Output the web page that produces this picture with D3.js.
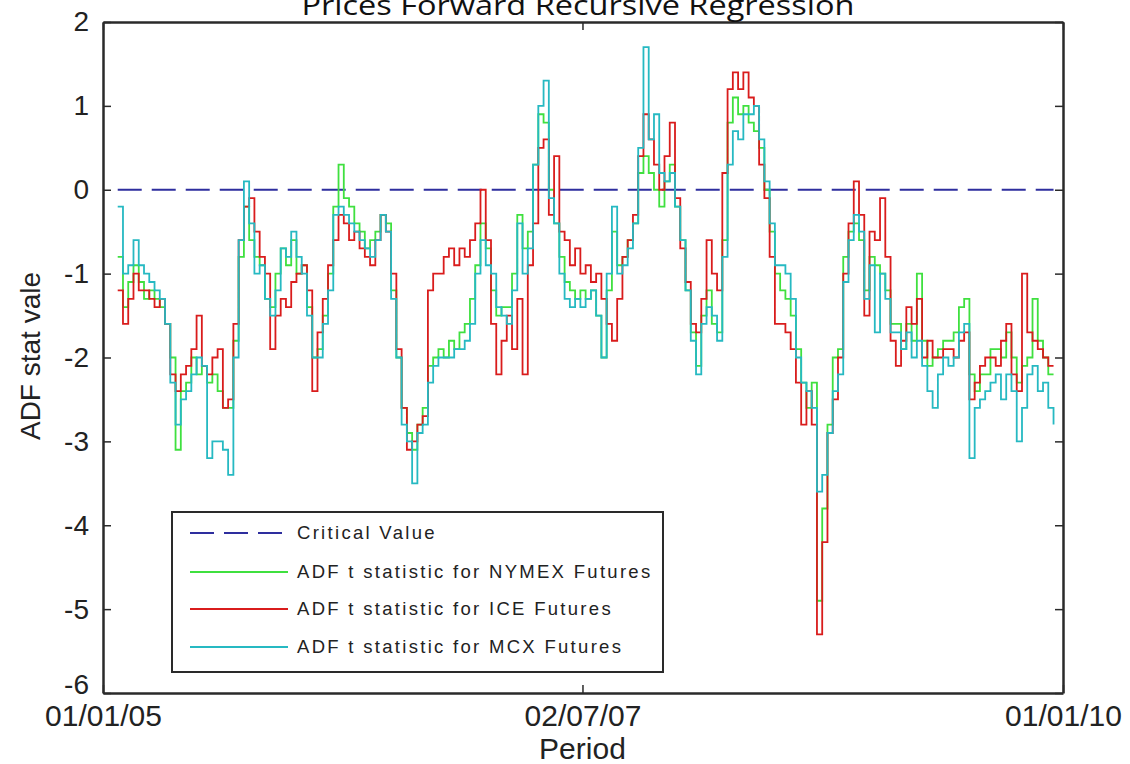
<!DOCTYPE html>
<html><head><meta charset="utf-8">
<script src="https://cdn.jsdelivr.net/npm/d3@7"></script>
<style>body{margin:0;background:#fff}svg{display:block}</style>
</head><body>
<svg id="chart" width="1130" height="764"></svg>
<script>
// ---------- data ----------
const chartTitle = "Prices Forward Recursive Regression";
const xLabel = "Period";
const yLabel = "ADF stat vale";
const xDomain = ["2005-01-01", "2010-01-01"];
const xTickDates = ["2005-01-01", "2007-07-02", "2010-01-01"];
const xTickLabels = ["01/01/05", "02/07/07", "01/01/10"];
const yTicks = [2, 1, 0, -1, -2, -3, -4, -5, -6];
const criticalValue = 0;
const legendLabels = ["Critical Value", "ADF t statistic for NYMEX Futures", "ADF t statistic for ICE Futures", "ADF t statistic for MCX Futures"];
const firstDate = "2005-01-29";
const stepDays = 10;
const nymex = [-0.8,-1.4,-1.1,-0.9,-1.1,-1.3,-1.2,-1.3,-1.4,-1.6,-2.0,-3.1,-2.4,-2.3,-2.0,-2.2,-2.1,-2.3,-2.2,-2.4,
 -2.6,-2.6,-1.8,-0.8,-0.2,-0.6,-0.8,-0.9,-1.3,-1.4,-1.0,-0.7,-0.9,-0.6,-1.0,-0.9,-1.4,-2.0,-1.9,-1.5,
 -1.0,-0.2,0.3,-0.1,-0.2,-0.4,-0.5,-0.7,-0.6,-0.5,-0.3,-0.4,-1.2,-2.0,-2.6,-2.9,-3.1,-2.8,-2.6,-2.1,
 -2.0,-1.9,-2.0,-1.8,-1.9,-1.7,-1.6,-1.3,-0.9,-0.4,-0.7,-1.2,-1.5,-1.4,-1.4,-1.0,-0.3,-0.7,-0.5,0.3,
 0.9,0.8,0.0,-0.4,-0.8,-1.1,-1.2,-1.3,-1.2,-1.3,-1.2,-1.5,-2.0,-1.2,-0.5,-0.9,-0.8,-0.6,-0.4,0.2,
 0.4,0.2,0.0,-0.2,0.1,0.3,-0.2,-0.6,-1.2,-1.7,-2.1,-1.5,-1.2,-1.6,-1.7,-0.6,0.8,1.1,0.9,1.0,
 0.8,0.7,0.5,0.0,-0.5,-1.0,-1.2,-1.3,-1.5,-1.9,-2.3,-2.6,-2.3,-4.9,-3.8,-2.8,-2.0,-1.9,-0.8,-0.5,
 -0.4,-0.6,-1.2,-0.8,-0.9,-1.0,-1.2,-1.6,-1.6,-1.9,-1.6,-1.8,-1.0,-1.8,-2.1,-2.0,-1.9,-1.8,-1.8,-1.7,
 -1.4,-1.3,-2.2,-2.4,-2.2,-2.2,-1.9,-1.9,-2.0,-1.7,-2.0,-2.3,-2.1,-2.0,-1.3,-1.8,-2.0,-2.2,-2.2];
const ice = [-1.2,-1.6,-1.3,-1.0,-1.2,-1.2,-1.3,-1.4,-1.3,-1.6,-2.2,-2.4,-2.2,-2.1,-1.9,-1.5,-2.1,-2.2,-2.0,-1.9,
 -2.6,-2.5,-1.6,-0.6,-0.2,-0.1,-0.5,-0.8,-1.0,-1.9,-1.5,-1.3,-1.4,-1.1,-1.0,-0.9,-1.2,-2.4,-1.7,-1.3,
 -0.9,-0.6,-0.3,-0.4,-0.6,-0.5,-0.7,-0.8,-0.9,-0.6,-0.3,-0.5,-1.0,-1.9,-2.6,-3.1,-3.0,-2.8,-2.7,-1.2,
 -1.0,-1.0,-0.8,-0.7,-0.9,-0.7,-0.8,-0.6,-0.4,0.0,-0.6,-1.6,-2.2,-1.8,-1.5,-1.9,-1.3,-2.2,-0.9,-0.4,
 0.5,0.6,-0.3,0.4,-0.5,-0.6,-0.9,-0.7,-1.0,-0.9,-1.1,-1.0,-1.3,-1.6,-1.8,-1.3,-0.8,-0.6,-0.3,0.4,
 0.9,0.6,0.3,0.0,0.4,0.8,-0.1,-0.7,-1.1,-1.6,-1.7,-1.3,-0.6,-1.0,-1.2,0.2,1.2,1.4,1.2,1.4,
 1.1,1.0,0.3,-0.1,-0.8,-1.6,-1.6,-1.7,-1.9,-2.3,-2.8,-2.4,-2.8,-5.3,-4.2,-2.9,-2.5,-2.0,-1.0,-0.4,
 0.1,-0.3,-1.5,-0.5,-0.6,-0.1,-0.8,-1.8,-2.1,-1.8,-1.4,-1.6,-1.3,-2.0,-1.8,-2.0,-2.0,-1.9,-1.9,-2.0,
 -1.8,-1.7,-2.5,-2.3,-2.1,-2.0,-2.0,-2.1,-1.8,-1.6,-2.2,-2.4,-1.0,-1.7,-1.8,-1.9,-2.0,-2.1,-2.1];
const mcx = [-0.2,-1.0,-0.9,-0.6,-0.9,-1.0,-1.1,-1.2,-1.3,-1.6,-2.3,-2.8,-2.5,-2.4,-2.2,-2.0,-2.1,-3.2,-3.0,-3.0,
 -3.1,-3.4,-2.0,-0.6,0.1,-0.4,-1.0,-0.9,-1.3,-1.5,-1.2,-0.7,-0.8,-0.5,-0.8,-1.0,-1.5,-2.0,-2.0,-1.6,
 -1.2,-0.3,-0.2,-0.3,-0.4,-0.5,-0.6,-0.7,-0.8,-0.6,-0.3,-0.5,-1.3,-2.0,-2.8,-3.0,-3.5,-2.9,-2.8,-2.3,
 -2.1,-2.0,-2.0,-2.0,-1.9,-1.9,-1.8,-1.6,-1.0,-0.6,-0.9,-1.0,-1.4,-1.5,-1.6,-1.2,-0.4,-1.0,-0.7,0.3,
 1.0,1.3,-0.1,-0.4,-1.0,-1.3,-1.4,-1.3,-1.4,-1.3,-1.2,-1.5,-2.0,-1.0,-0.2,-1.0,-0.9,-0.7,-0.4,0.5,
 1.7,0.6,0.9,0.2,0.1,0.2,-0.2,-0.6,-1.2,-1.8,-2.2,-1.6,-1.4,-1.5,-1.8,-0.8,0.3,0.7,0.6,0.9,
 0.9,1.0,0.6,0.1,-0.4,-0.9,-0.9,-1.0,-1.3,-2.0,-2.3,-2.4,-2.6,-3.6,-3.4,-2.9,-2.4,-2.2,-1.1,-0.6,
 -0.3,-0.5,-1.3,-0.9,-1.7,-1.0,-1.3,-1.7,-1.7,-1.9,-1.7,-2.0,-1.8,-2.1,-2.4,-2.6,-2.2,-2.0,-2.1,-2.0,
 -1.7,-1.6,-3.2,-2.6,-2.5,-2.4,-2.3,-2.2,-2.5,-2.2,-2.4,-3.0,-2.6,-2.2,-2.1,-2.4,-2.3,-2.6,-2.8];

// ---------- styles ----------
const colors = {critical: "#2e2e9e", nymex: "#3fe03f", ice: "#d91c1c", mcx: "#26b9c2"};
const axisColor = "#2a2a2a";
const fontAxis = "'Liberation Sans', Arial, sans-serif";

// ---------- layout ----------
const svg = d3.select("#chart");
const W = 1130, H = 764;
const m = {left: 103, right: 67, top: 22, bottom: 71};
const parse = d3.timeParse("%Y-%m-%d");
const x = d3.scaleTime().domain(xDomain.map(parse)).range([m.left, W - m.right]);
const y = d3.scaleLinear().domain([-6, 2]).range([H - m.bottom, m.top]);

const t0 = parse(firstDate);
const dateAt = i => d3.timeDay.offset(t0, i * stepDays);

// critical value line
svg.append("line")
  .attr("x1", x(dateAt(0))).attr("x2", x(dateAt(nymex.length - 1)))
  .attr("y1", y(criticalValue)).attr("y2", y(criticalValue))
  .attr("stroke", colors.critical).attr("stroke-width", 2.2)
  .attr("stroke-dasharray", "24,10");

const line = d3.line().x((d, i) => x(dateAt(i))).y(d => y(d)).curve(d3.curveStepAfter);
[[nymex, colors.nymex], [ice, colors.ice], [mcx, colors.mcx]].forEach(([s, c]) => {
  svg.append("path").datum(s).attr("d", line)
    .attr("fill", "none").attr("stroke", c).attr("stroke-width", 1.8)
    .attr("stroke-linejoin", "miter");
});

// axes
const tickDates = xTickDates.map(parse);
function styleAxis(g, size) {
  g.selectAll("path.domain").attr("stroke", axisColor).attr("stroke-width", 2.5);
  g.selectAll(".tick line").attr("stroke", axisColor).attr("stroke-width", 1.5);
  g.selectAll("text").attr("fill", "#222").attr("font-family", fontAxis).attr("font-size", size || 28);
}
const gl = svg.append("g").attr("transform", `translate(${m.left},0)`)
  .call(d3.axisLeft(y).tickValues(yTicks).tickSizeInner(-8).tickSizeOuter(0).tickPadding(14).tickFormat(d => String(d)))
  .call(styleAxis, 28);
gl.selectAll(".tick text").filter(d => d === -6).attr("dy", "0em");
svg.append("g").attr("transform", `translate(${W - m.right},0)`)
  .call(d3.axisRight(y).tickValues(yTicks).tickSizeInner(-8).tickSizeOuter(0).tickFormat(""))
  .call(styleAxis);
svg.append("g").attr("transform", `translate(0,${H - m.bottom})`)
  .call(d3.axisBottom(x).tickValues(tickDates).tickSizeInner(-8).tickSizeOuter(0).tickPadding(12)
    .tickFormat((d, i) => xTickLabels[i]))
  .call(styleAxis, 30);
svg.append("g").attr("transform", `translate(0,${m.top})`)
  .call(d3.axisTop(x).tickValues(tickDates).tickSizeInner(-8).tickSizeOuter(0).tickFormat(""))
  .call(styleAxis);

// titles
svg.append("text").attr("x", 578).attr("y", 15).attr("text-anchor", "middle")
  .attr("font-family", "'Open Sans', sans-serif").attr("font-size", 27).attr("fill", "#111")
  .attr("textLength", 553).attr("lengthAdjust", "spacingAndGlyphs").text(chartTitle);
svg.append("text").attr("x", x(tickDates[1])).attr("y", 759).attr("text-anchor", "middle")
  .attr("font-family", fontAxis).attr("font-size", 30).attr("fill", "#222").text(xLabel);
svg.append("text").attr("transform", "translate(40,356) rotate(-90)").attr("text-anchor", "middle")
  .attr("font-family", fontAxis).attr("font-size", 28).attr("fill", "#222").text(yLabel);

// legend
const lg = svg.append("g");
lg.append("rect").attr("x", 172).attr("y", 512).attr("width", 491).attr("height", 160)
  .attr("fill", "#fff").attr("stroke", axisColor).attr("stroke-width", 2);
const legendColors = [colors.critical, colors.nymex, colors.ice, colors.mcx];
const legendRows = [533, 572, 609, 647];
legendLabels.forEach((lab, i) => {
  lg.append("line").attr("x1", 190).attr("x2", 288).attr("y1", legendRows[i]).attr("y2", legendRows[i])
    .attr("stroke", legendColors[i]).attr("stroke-width", i === 0 ? 2.2 : 2)
    .attr("stroke-dasharray", i === 0 ? "24,10" : null);
  lg.append("text").attr("x", 297).attr("y", legendRows[i]).attr("dy", "0.35em")
    .attr("font-family", fontAxis).attr("font-size", 18.5).attr("letter-spacing", 2.3)
    .attr("fill", "#222").text(lab);
});
</script>
</body></html>
